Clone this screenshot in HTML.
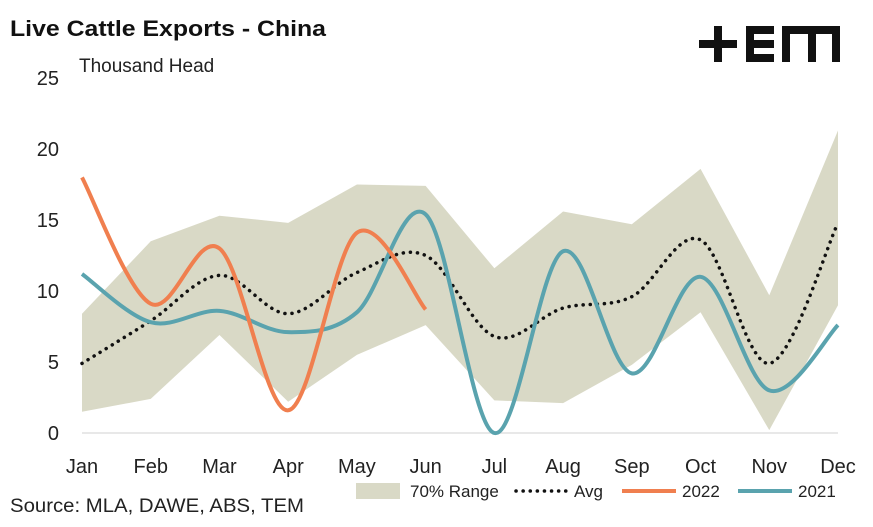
<!DOCTYPE html>
<html><head><meta charset="utf-8">
<style>
body{margin:0;background:#fff;font-family:"Liberation Sans",Arial,sans-serif;}
svg text{font-family:"Liberation Sans",Arial,sans-serif;}
</style></head>
<body>
<svg id="chart" width="873" height="522" viewBox="0 0 873 522">
<text x="10" y="36" font-size="22" font-weight="bold" fill="#111" textLength="316" lengthAdjust="spacingAndGlyphs">Live Cattle Exports - China</text>
<text x="79" y="72" font-size="19" fill="#222">Thousand Head</text>
<g fill="#111">
<rect x="699" y="40" width="38" height="8"/><rect x="714" y="26" width="8" height="36"/>
<rect x="746" y="26" width="8" height="36"/><rect x="746" y="26" width="28" height="8"/><rect x="746" y="40" width="28" height="8"/><rect x="746" y="54" width="28" height="8"/>
<rect x="782" y="26" width="8" height="36"/><rect x="782" y="26" width="58" height="8"/><rect x="808" y="26" width="8" height="36"/><rect x="832" y="26" width="8" height="36"/>
</g>
<g id="plot"></g>
<text x="10" y="512" font-size="19" fill="#222" textLength="294" lengthAdjust="spacingAndGlyphs">Source: MLA, DAWE, ABS, TEM</text>
<g>
<rect x="356" y="483" width="44" height="16" fill="#d9d9c6"/>
<text x="410" y="497" font-size="17" fill="#222">70% Range</text>
<line x1="516" y1="491" x2="568" y2="491" stroke="#111" stroke-width="3.5" stroke-dasharray="0.1 7" stroke-linecap="round"/>
<text x="574" y="497" font-size="17" fill="#222">Avg</text>
<line x1="622" y1="491" x2="676" y2="491" stroke="#f07f4f" stroke-width="4"/>
<text x="682" y="497" font-size="17" fill="#222">2022</text>
<line x1="738" y1="491" x2="792" y2="491" stroke="#5aa3ae" stroke-width="4"/>
<text x="798" y="497" font-size="17" fill="#222">2021</text>
</g>
</svg>
<script>
const months=["Jan","Feb","Mar","Apr","May","Jun","Jul","Aug","Sep","Oct","Nov","Dec"];
const yTicks=[0,5,10,15,20,25];
const rangeUpper=[8.4,13.5,15.3,14.8,17.5,17.4,11.6,15.6,14.7,18.6,9.7,21.3];
const rangeLower=[1.5,2.4,6.9,2.2,5.5,7.6,2.3,2.1,4.8,8.5,0.2,9.0];
const avg=[4.9,7.9,11.1,8.4,11.3,12.5,6.8,8.8,9.6,13.6,4.9,14.8];
const s2022=[18.0,9.1,13.0,1.6,14.1,8.7];
const s2021=[11.2,7.8,8.6,7.1,8.5,15.4,0.0,12.8,4.2,11.0,3.0,7.6];
const NS="http://www.w3.org/2000/svg";
const g=document.getElementById('plot');
const x0=82,x1=838,y0=433,y25=78;
const xs=i=>x0+i*(x1-x0)/11;
const ys=v=>y0+(y25-y0)*v/25;
function mk(t,a){const e=document.createElementNS(NS,t);for(const k in a)e.setAttribute(k,a[k]);g.appendChild(e);return e;}
function smooth(vals){const p=vals.map((v,i)=>[xs(i),ys(v)]);let d="M"+p[0][0]+","+p[0][1];
for(let i=0;i<p.length-1;i++){const a=p[i-1]||p[i],b=p[i],c=p[i+1],e=p[i+2]||c;
d+=" C"+(b[0]+(c[0]-a[0])/6)+","+(b[1]+(c[1]-a[1])/6)+" "+(c[0]-(e[0]-b[0])/6)+","+(c[1]-(e[1]-b[1])/6)+" "+c[0]+","+c[1];}return d;}
let d="M"+rangeUpper.map((v,i)=>xs(i)+","+ys(v)).join(" L");
for(let i=rangeLower.length-1;i>=0;i--)d+=" L"+xs(i)+","+ys(rangeLower[i]);
let el=mk('path',{d:d+"Z",fill:"#d9d9c6"});


el=mk('line',{x1:x0,y1:y0,x2:x1,y2:y0,stroke:"#d0d0d0","stroke-width":1});


yTicks.forEach(t=>{const e=mk('text',{x:59,y:ys(t)+7,"font-size":20,"text-anchor":"end",fill:"#222"});e.textContent=t;

});
months.forEach((m,i)=>{const e=mk('text',{x:xs(i),y:473,"font-size":20,"text-anchor":"middle",fill:"#222"});e.textContent=m;

});
el=mk('path',{d:smooth(avg),fill:"none",stroke:"#111","stroke-width":3.5,"stroke-dasharray":"0.1 7","stroke-linecap":"round"});


el=mk('path',{d:smooth(s2021),fill:"none",stroke:"#5aa3ae","stroke-width":4});


el=mk('path',{d:smooth(s2022),fill:"none",stroke:"#f07f4f","stroke-width":4});


</script>
</body></html>
